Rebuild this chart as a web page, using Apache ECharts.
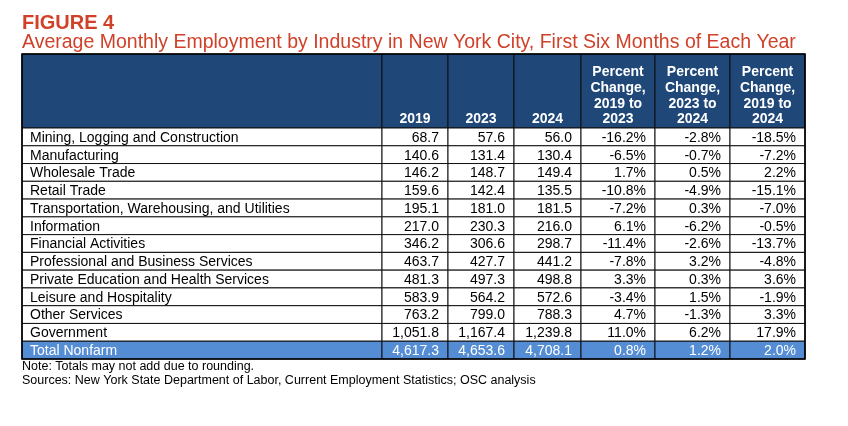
<!DOCTYPE html>
<html><head><meta charset="utf-8">
<script src="https://cdn.jsdelivr.net/npm/echarts@6/dist/echarts.min.js"></script>
<style>html,body{margin:0;padding:0;background:#fff}#c{width:848px;height:426px}</style>
</head><body><div id="c"></div>
<script>
// ---- data ----
var industries = ["Mining, Logging and Construction","Manufacturing","Wholesale Trade","Retail Trade","Transportation, Warehousing, and Utilities","Information","Financial Activities","Professional and Business Services","Private Education and Health Services","Leisure and Hospitality","Other Services","Government"];
var emp2019 = [68.7,140.6,146.2,159.6,195.1,217.0,346.2,463.7,481.3,583.9,763.2,1051.8];
var emp2023 = [57.6,131.4,148.7,142.4,181.0,230.3,306.6,427.7,497.3,564.2,799.0,1167.4];
var emp2024 = [56.0,130.4,149.4,135.5,181.5,216.0,298.7,441.2,498.8,572.6,788.3,1239.8];
var pct19to23 = [-16.2,-6.5,1.7,-10.8,-7.2,6.1,-11.4,-7.8,3.3,-3.4,4.7,11.0];
var pct23to24 = [-2.8,-0.7,0.5,-4.9,0.3,-6.2,-2.6,3.2,0.3,1.5,-1.3,6.2];
var pct19to24 = [-18.5,-7.2,2.2,-15.1,-7.0,-0.5,-13.7,-4.8,3.6,-1.9,3.3,17.9];
var totalLabel = "Total Nonfarm";
var totalEmp = [4617.3,4653.6,4708.1];
var totalPct = [0.8,1.2,2.0];
var headers = ["","2019","2023","2024","Percent\nChange,\n2019 to\n2023","Percent\nChange,\n2023 to\n2024","Percent\nChange,\n2019 to\n2024"];
var titleText = "FIGURE 4";
var subtitleText = "Average Monthly Employment by Industry in New York City, First Six Months of Each Year";
var noteText = "Note: Totals may not add due to rounding.";
var sourceText = "Sources: New York State Department of Labor, Current Employment Statistics; OSC analysis";

// ---- layout ----
var colWidths = [360,66,66,67,74,75,75];
var colEdges = [0]; colWidths.forEach(function(w){colEdges.push(colEdges[colEdges.length-1]+w);});
var TABLE_W = colEdges[colEdges.length-1];
var HEADER_H = 74, ROW_H = 231/13;
var TABLE_H = HEADER_H + ROW_H*13;
var FONT = '"Liberation Sans", Arial, sans-serif';
var RED = '#CF4128', DARK = '#1F4778', LIGHT = '#548DD4';

function fmtNum(v){ return v.toLocaleString('en-US',{minimumFractionDigits:1,maximumFractionDigits:1}); }
function fmtPct(v){ return v.toFixed(1) + '%'; }

var cells = [];
headers.forEach(function(h,c){ cells.push({col:c,row:-1,text:h}); });
industries.forEach(function(name,r){
  var vals = [name, fmtNum(emp2019[r]), fmtNum(emp2023[r]), fmtNum(emp2024[r]), fmtPct(pct19to23[r]), fmtPct(pct23to24[r]), fmtPct(pct19to24[r])];
  vals.forEach(function(t,c){ cells.push({col:c,row:r,text:t}); });
});
var tr = industries.length;
[totalLabel].concat(totalEmp.map(fmtNum)).concat(totalPct.map(fmtPct)).forEach(function(t,c){ cells.push({col:c,row:tr,text:t,total:true}); });

var chart = echarts.init(document.getElementById('c'), null, {renderer:'canvas'});
chart.setOption({
  animation:false,
  title:[
    {text:titleText,left:22,top:13,padding:0,textStyle:{fontFamily:FONT,fontSize:20,fontWeight:'bold',color:RED}},
    {text:subtitleText,left:22,top:33,padding:0,textStyle:{fontFamily:FONT,fontSize:19.5,fontWeight:'normal',color:RED}},
    {text:noteText,left:22,top:360.5,padding:0,textStyle:{fontFamily:FONT,fontSize:12.5,fontWeight:'normal',color:'#000'}},
    {text:sourceText,left:22,top:374.5,padding:0,textStyle:{fontFamily:FONT,fontSize:12.5,fontWeight:'normal',color:'#000'}}
  ],
  grid:{left:22,top:54,width:TABLE_W,height:TABLE_H},
  xAxis:{type:'value',min:0,max:TABLE_W,show:false},
  yAxis:{type:'value',min:0,max:TABLE_H,inverse:true,show:false},
  series:[{
    type:'custom',
    coordinateSystem:'cartesian2d',
    data:cells.map(function(c){return [c.col,c.row];}),
    renderItem:function(params,api){
      var cell = cells[params.dataIndex];
      var c = api.value(0), r = api.value(1);
      var x0 = colEdges[c], x1 = colEdges[c+1];
      var y0 = r<0 ? 0 : HEADER_H + r*ROW_H;
      var y1 = r<0 ? HEADER_H : y0 + ROW_H;
      var p0 = api.coord([x0,y0]), p1 = api.coord([x1,y1]);
      var fill = r<0 ? DARK : (cell.total ? LIGHT : '#fff');
      var txtColor = (r<0 || cell.total) ? '#fff' : '#000';
      var text;
      if (r<0){
        text = {type:'text',z2:2,style:{text:cell.text,x:(p0[0]+p1[0])/2,y:p1[1]-0.5,align:'center',verticalAlign:'bottom',fill:txtColor,font:'bold 14px '+FONT,lineHeight:15.8}};
      } else if (c===0){
        text = {type:'text',z2:2,style:{text:cell.text,x:p0[0]+8,y:(p0[1]+p1[1])/2+1,align:'left',verticalAlign:'middle',fill:txtColor,font:'14px '+FONT}};
      } else {
        text = {type:'text',z2:2,style:{text:cell.text,x:p1[0]-9,y:(p0[1]+p1[1])/2+1,align:'right',verticalAlign:'middle',fill:txtColor,font:'14px '+FONT}};
      }
      return {type:'group',children:[
        {type:'rect',shape:{x:p0[0],y:p0[1],width:p1[0]-p0[0],height:p1[1]-p0[1]},style:{fill:fill,stroke:'#111',lineWidth:1}},
        text
      ]};
    }
  },{
    type:'custom',
    coordinateSystem:'cartesian2d',
    z:5,
    data:[[0,0]],
    renderItem:function(params,api){
      var p0 = api.coord([0,0]), p1 = api.coord([TABLE_W,TABLE_H]);
      return {type:'rect',shape:{x:p0[0],y:p0[1],width:p1[0]-p0[0],height:p1[1]-p0[1]},style:{fill:'none',stroke:'#000',lineWidth:1.6}};
    }
  }]
});
</script></body></html>
